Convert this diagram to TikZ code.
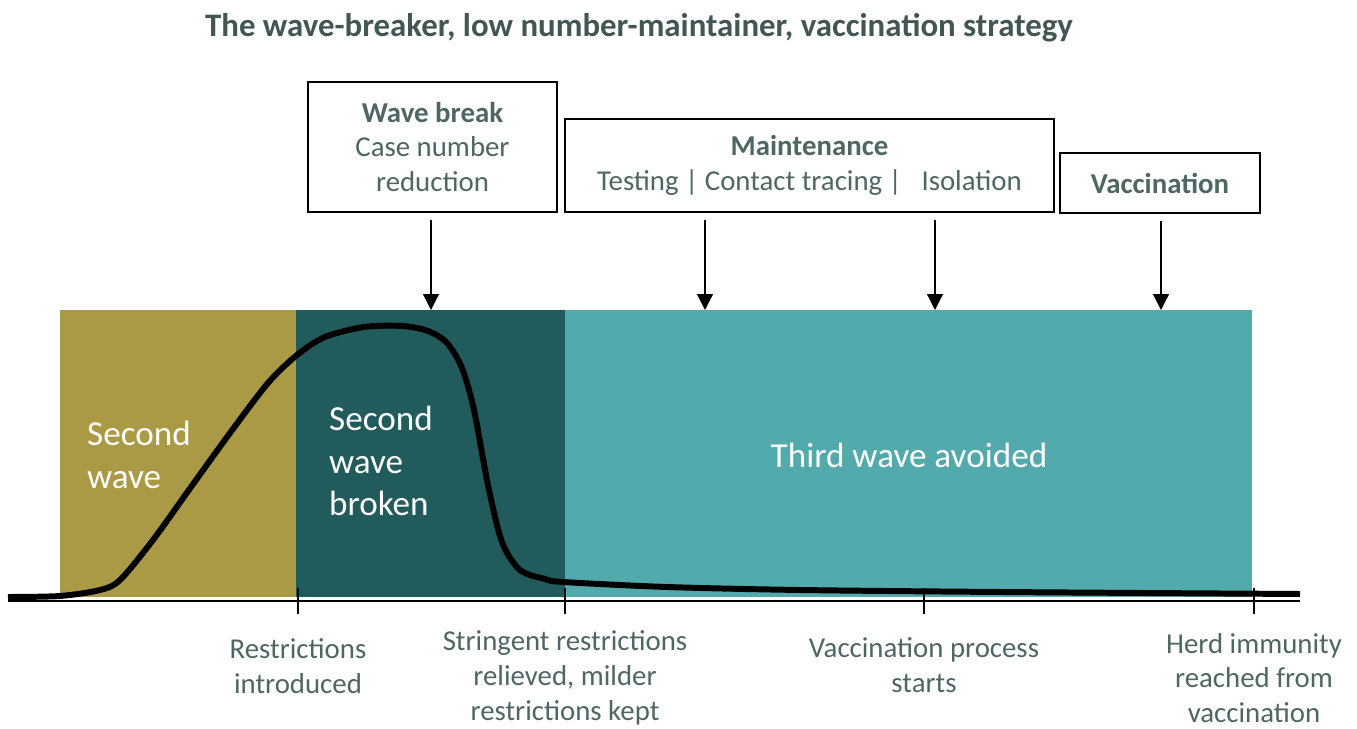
\documentclass[tikz,border=0pt]{standalone}
\usepackage{fontspec}
\setmainfont{Carlito}
\usetikzlibrary{arrows.meta}
\definecolor{gold}{HTML}{AB9A45}
\definecolor{deepteal}{HTML}{225B5C}
\definecolor{lightteal}{HTML}{53AAAD}
\definecolor{slate}{HTML}{4E6664}

\begin{document}
\begin{tikzpicture}[x=0.02cm, y=-0.02cm,
  box/.style = {draw, line width=1.4pt, align=center, text=slate, inner sep=0pt,
                font=\fontsize{16.4}{19.8}\selectfont},
  lbl/.style = {align=center, text=slate, font=\fontsize{16.4}{19.8}\selectfont},
  big/.style = {align=left, text=white, font=\fontsize{20}{24.4}\selectfont},
  arr/.style = {-{Triangle[width=9pt,length=9pt]}, line width=0.7pt, shorten <=4pt},
  tick/.style = {line width=1pt}]
\useasboundingbox (0,0) rectangle (1357,729);

\node[font=\bfseries\fontsize{18.7}{22}\selectfont, text=slate!85!black] (title) at (639,28)
  {The wave-breaker, low number-maintainer, vaccination strategy};

% phases
\fill[gold] (60,310) rectangle (296,597);
\fill[deepteal] (296,310) rectangle (565,597);
\fill[lightteal] (565,310) rectangle (1252,597);

\node[big, anchor=west] (sw) at (81,455) {Second\\wave};
\node[big, anchor=west] (swb) at (323,461) {Second\\wave\\broken};
\node[big, align=center] (twa) at (909,455) {Third wave avoided};

% measures
\node[box, minimum width=4.98cm, minimum height=2.6cm] (wb) at (432.5,147)
  {\textbf{Wave break}\\Case number\\reduction};
\node[box, minimum width=9.78cm, minimum height=1.86cm] (mt) at (809.5,165.5)
  {\textbf{Maintenance}\\Testing | Contact tracing | \ \ Isolation};
\node[box, minimum width=4cm, minimum height=1.2cm] (vc) at (1160,183)
  {\textbf{Vaccination}};

\coordinate (a1) at (431,310);
\coordinate (a2) at (705,310);
\coordinate (a3) at (935,310);
\coordinate (a4) at (1161,310);
\draw[arr] (wb.south -| a1) -- (a1);
\draw[arr] (mt.south -| a2) -- (a2);
\draw[arr] (mt.south -| a3) -- (a3);
\draw[arr] (vc.south -| a4) -- (a4);

% time axis
\coordinate (t1) at (298,600);
\coordinate (t2) at (565,600);
\coordinate (t3) at (924,600);
\coordinate (t4) at (1254,600);
\draw[line width=1.2pt] (8,601) -- (1300,601);
\foreach \t in {t1,t2,t3,t4}
  \draw[tick] (\t) ++(0,-12) -- ++(0,26);

\draw[line width=3.4pt, line join=round] plot[smooth, tension=0.5] coordinates {
  (8,597) (60,596) (100,590) (120,580) (153,540) (191,487) (230,433) (268,383)
  (297,355) (325,337) (364,327) (402,326) (428,331) (447,343) (462,368) (474,410)
  (488,485) (502,542) (520,570) (545,579) (563,582) (667,587) (800,590) (1000,592) (1300,594)};

\node[lbl] (l1) at (298,666) {Restrictions\\introduced};
\node[lbl] (l2) at (565,678) {Stringent restrictions\\relieved, milder\\restrictions kept};
\node[lbl] (l3) at (924,665) {Vaccination process\\starts};
\node[lbl] (l4) at (1254,678) {Herd immunity\\reached from\\vaccination};
\end{tikzpicture}
\end{document}
